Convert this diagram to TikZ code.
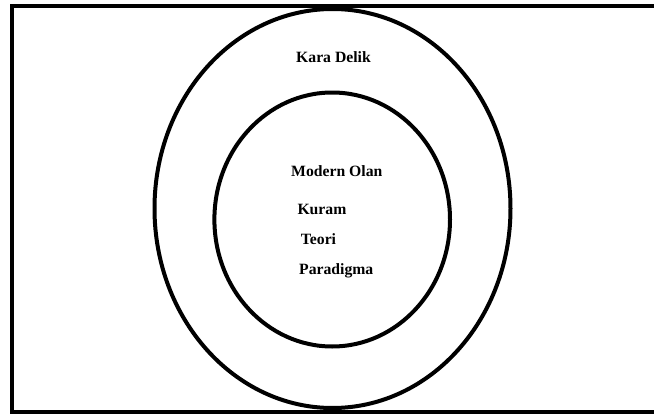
\documentclass[tikz,border=0pt]{standalone}
\usepackage{fontspec}
\setmainfont{Liberation Serif}
\usepackage{tikz}
\usetikzlibrary{shapes.geometric, positioning}

\begin{document}
\begin{tikzpicture}[
        x=1pt, y=-1pt,
        ring/.style={ellipse, draw=black, line width=4pt, inner sep=0pt, minimum width=#1},
        term/.style={anchor=base west, inner sep=0pt, font=\fontsize{15.7}{18}\selectfont\bfseries}
    ]
        \useasboundingbox (0,0) rectangle (654,415);
        % frame, open on the right
        \draw[line width=4pt] (654,6) -- (11.7,6) -- (11.7,411.5) -- (654,411.5);

        \node[ring=356pt, minimum height=399pt] (outer) at (332.5,208.5) {};
        \node[ring=235.6pt, minimum height=254pt] (inner) at (332.2,219.5) {};

        \node[term] (karadelik) at (296,62.7) {Kara Delik};
        \node[term] (modern) at (291,176) {Modern Olan};
        \node[term] (kuram) at (297.3,214.3) {Kuram};
        \node[term] (teori) at (300.7,244) {Teori};
        \node[term] (paradigma) at (299,274) {Paradigma};
    \end{tikzpicture}
\end{document}
